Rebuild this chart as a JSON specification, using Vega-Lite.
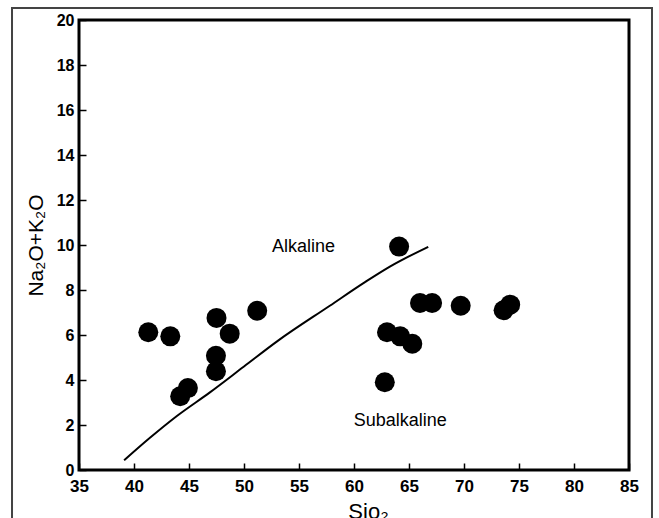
{
  "$schema": "https://vega.github.io/schema/vega-lite/v6.json",
  "width": 550,
  "height": 450,
  "autosize": {"type": "none"},
  "padding": {"left": 79, "top": 20, "right": 30, "bottom": 48},
  "background": "white",
  "config": {
    "view": {"stroke": "black", "strokeWidth": 3},
    "font": "Liberation Sans"
  },
  "encoding": {
    "x": {
      "field": "x", "type": "quantitative",
      "scale": {"domain": [35, 85], "nice": false, "zero": false},
      "axis": {
        "title": "Sio₂", "values": [35, 40, 45, 50, 55, 60, 65, 70, 75, 80, 85],
        "domain": false, "grid": false, "tickSize": -7, "tickColor": "black", "tickWidth": 1.5,
        "labelFont": "Liberation Sans", "labelFontSize": 17, "labelFontWeight": "bold", "labelColor": "black",
        "labelPadding": 15, "labelFlush": false,
        "titleFont": "Liberation Sans", "titleFontSize": 22, "titleFontWeight": "normal", "titleColor": "black",
        "titleX": 289, "titleY": 31, "titleBaseline": "top", "titleAlign": "center"
      }
    },
    "y": {
      "field": "y", "type": "quantitative",
      "scale": {"domain": [0, 20], "nice": false, "zero": false},
      "axis": {
        "title": "Na₂O+K₂O", "values": [0, 2, 4, 6, 8, 10, 12, 14, 16, 18, 20],
        "domain": false, "grid": false, "tickSize": -7, "tickColor": "black", "tickWidth": 1.5,
        "labelFont": "Liberation Sans", "labelFontSize": 16, "labelFontWeight": "bold", "labelColor": "black",
        "labelPadding": 12, "labelFlush": false,
        "titleFont": "Liberation Sans", "titleFontSize": 21, "titleFontWeight": "normal", "titleColor": "black",
        "titleX": -43, "titleY": 225, "titleAngle": -90, "titleBaseline": "middle", "titleAlign": "center"
      }
    }
  },
  "layer": [
    {
      "data": {"values": [{"x": 28.91, "y": 20.53, "x2": 87.09, "y2": -2.7}]},
      "mark": {"type": "rect", "fill": "transparent", "stroke": "#444444", "strokeWidth": 2, "clip": false},
      "encoding": {"x2": {"field": "x2"}, "y2": {"field": "y2"}}
    },
    {
      "data": {"values": [
        {"x": 39.1, "y": 0.43}, {"x": 41.45, "y": 1.43}, {"x": 43.9, "y": 2.4},
        {"x": 46.9, "y": 3.45}, {"x": 50.0, "y": 4.6}, {"x": 53.1, "y": 5.75},
        {"x": 57.8, "y": 7.3}, {"x": 61.0, "y": 8.35}, {"x": 63.3, "y": 9.05},
        {"x": 66.75, "y": 9.92}
      ]},
      "mark": {"type": "line", "color": "black", "strokeWidth": 2, "interpolate": "monotone"}
    },
    {
      "data": {"values": [
        {"x": 41.3, "y": 6.12}, {"x": 43.3, "y": 5.94}, {"x": 47.5, "y": 6.76},
        {"x": 48.7, "y": 6.06}, {"x": 51.2, "y": 7.08}, {"x": 47.45, "y": 5.08},
        {"x": 47.45, "y": 4.39}, {"x": 44.9, "y": 3.64}, {"x": 44.2, "y": 3.28},
        {"x": 66.0, "y": 7.42}, {"x": 67.1, "y": 7.42}, {"x": 69.7, "y": 7.3},
        {"x": 73.6, "y": 7.1}, {"x": 74.2, "y": 7.35}, {"x": 63.0, "y": 6.12},
        {"x": 64.2, "y": 5.94}, {"x": 65.3, "y": 5.61}, {"x": 62.8, "y": 3.9},
        {"x": 64.1, "y": 9.93}
      ]},
      "mark": {"type": "point", "filled": true, "color": "black", "opacity": 1, "size": 400}
    },
    {
      "data": {"values": [
        {"x": 55.4, "y": 9.9, "label": "Alkaline"},
        {"x": 64.2, "y": 2.2, "label": "Subalkaline"}
      ]},
      "mark": {"type": "text", "font": "Liberation Sans", "fontSize": 18, "color": "black", "align": "center", "baseline": "middle"},
      "encoding": {"text": {"field": "label"}}
    }
  ]
}
